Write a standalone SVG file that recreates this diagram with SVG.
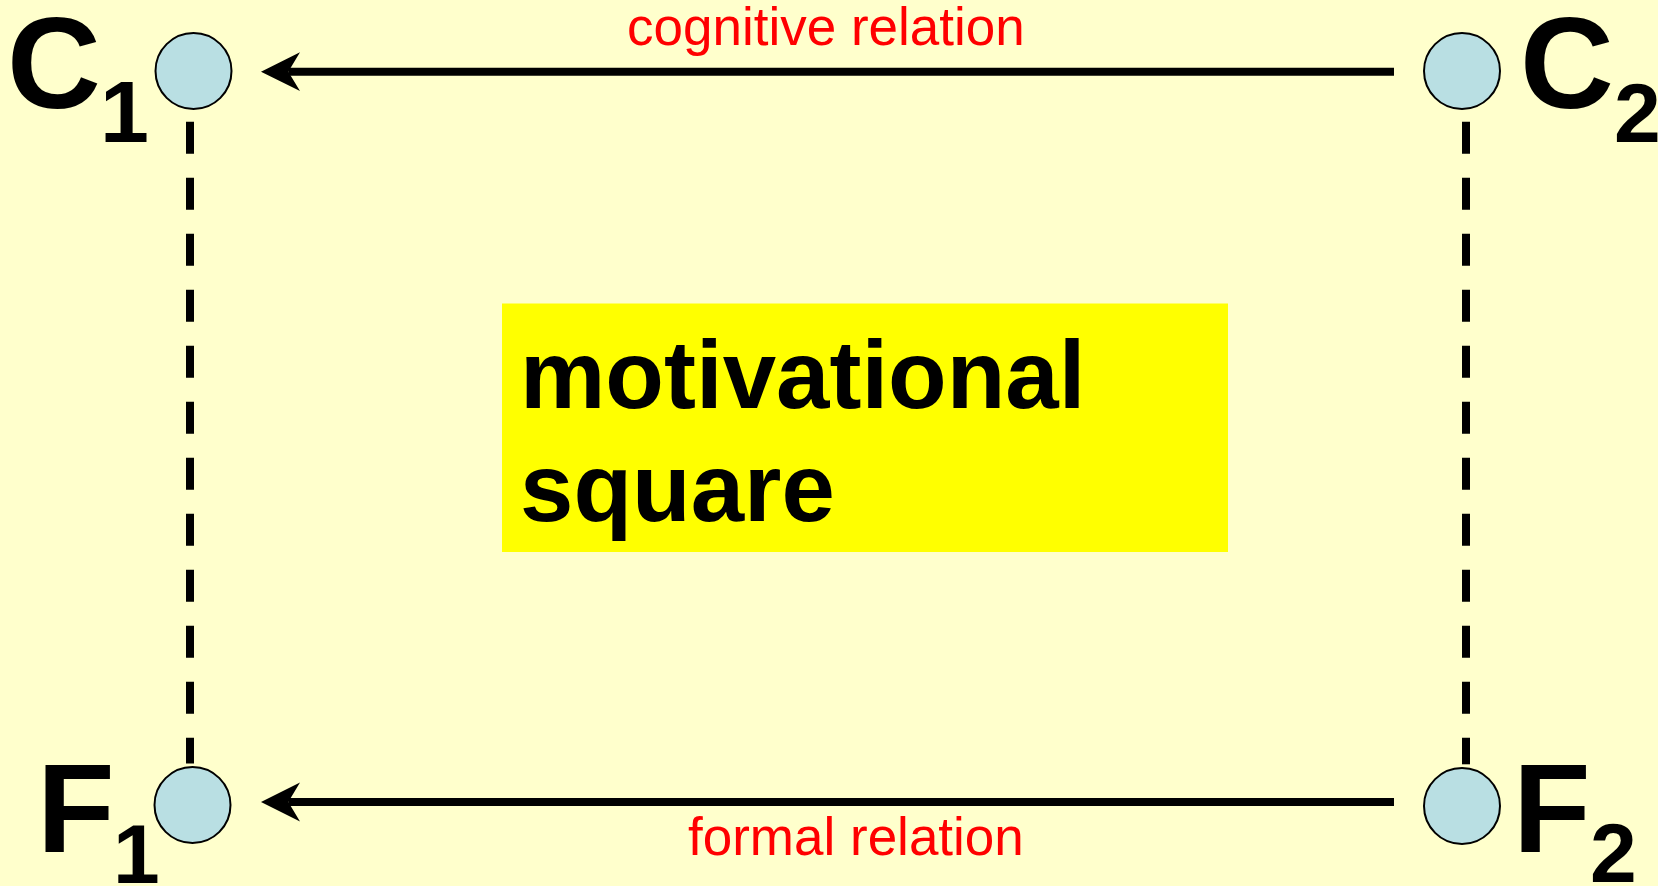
<svg xmlns="http://www.w3.org/2000/svg" width="1658" height="886" viewBox="0 0 1658 886">
  <style>
    .bg { fill: #FFFFCC; }
    .node { fill: #B9DFE3; stroke: #000; stroke-width: 2; }
    .big { font-family: "Liberation Sans", Arial, sans-serif; font-weight: bold; fill: #000; }
    .rel { font-family: "Liberation Sans", Arial, sans-serif; fill: #FF0000; font-size: 53px; }
    .arrow { stroke: #000; stroke-width: 8; fill: none; }
    .dash { stroke: #000; stroke-width: 8; stroke-dasharray: 32 24; fill: none; }
  </style>
  <defs>
    <marker id="ah" markerUnits="userSpaceOnUse" viewBox="-12 -20 40 40" refX="0" refY="0" markerWidth="40" markerHeight="40" orient="auto" overflow="visible">
      <path d="M27.3,0 L-11.7,-19.4 L0,0 L-11.7,19.4 Z" fill="#000"/>
    </marker>
  </defs>
  <rect class="bg" x="0" y="0" width="1658" height="886"/>

  <g id="connectors">
    <line class="arrow" x1="1394" y1="71.7" x2="288.3" y2="71.7" marker-end="url(#ah)"/>
    <line class="arrow" x1="1394" y1="802" x2="288.3" y2="802" marker-end="url(#ah)"/>
    <line class="dash" x1="190" y1="121.7" x2="190" y2="763.5"/>
    <line class="dash" x1="1466" y1="121.7" x2="1466" y2="764.3"/>
    <text class="rel" x="627" y="45">cognitive relation</text>
    <text class="rel" x="688" y="855">formal relation</text>
  </g>

  <g id="box">
    <rect x="502" y="303.5" width="726" height="248.5" fill="#FFFF00"/>
    <text class="big" x="520" y="408" font-size="96">motivational</text>
    <text class="big" x="520" y="521" font-size="96">square</text>
  </g>

  <g id="C1">
    <circle class="node" cx="193.5" cy="71" r="38"/>
    <text class="big" x="7" y="108" font-size="130">C</text>
    <text class="big" x="100" y="142" font-size="88">1</text>
  </g>
  <g id="C2">
    <circle class="node" cx="1462" cy="71" r="38"/>
    <text class="big" x="1520" y="108" font-size="130">C</text>
    <text class="big" x="1614" y="142" font-size="84">2</text>
  </g>
  <g id="F1">
    <circle class="node" cx="192.5" cy="805" r="38"/>
    <text class="big" x="37" y="852" font-size="127">F</text>
    <text class="big" x="113" y="883" font-size="84">1</text>
  </g>
  <g id="F2">
    <circle class="node" cx="1462" cy="806" r="38"/>
    <text class="big" x="1513" y="852" font-size="127">F</text>
    <text class="big" x="1590" y="882" font-size="84">2</text>
  </g>
</svg>
